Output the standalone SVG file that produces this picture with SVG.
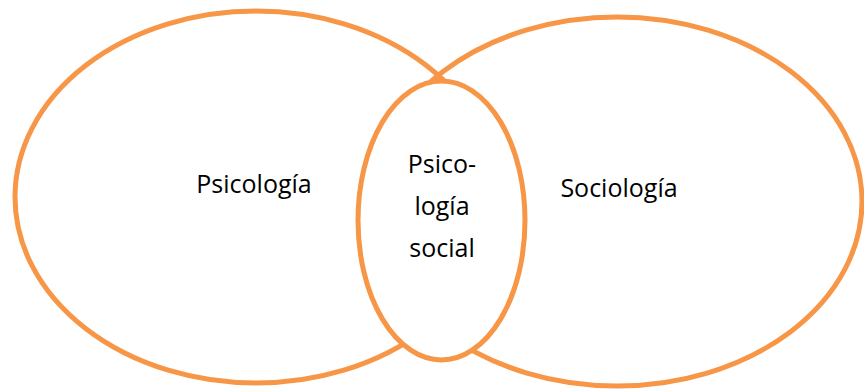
<svg xmlns="http://www.w3.org/2000/svg" width="864" height="389" viewBox="0 0 864 389">
<style>
.e{fill:none;stroke:#F79646;stroke-width:5}
.m{fill:#FFFFFF;stroke:#F79646;stroke-width:5}
.t{font-family:"Open Sans","Liberation Sans",sans-serif;font-size:25px;fill:#000000;text-anchor:middle}
</style>
<rect width="864" height="389" fill="#FFFFFF"/>
<g id="psicologia">
<ellipse class="e" cx="256" cy="197" rx="241" ry="186"/>
<text class="t" x="254" y="193">Psicología</text>
</g>
<g id="sociologia">
<ellipse class="e" cx="617" cy="201.5" rx="245" ry="184.5"/>
<text class="t" x="619" y="197">Sociología</text>
</g>
<g id="psicologia-social">
<ellipse class="m" cx="441.5" cy="220.5" rx="83.5" ry="139.5"/>
<text class="t" x="442" y="173">Psico-</text>
<text class="t" x="442" y="215">logía</text>
<text class="t" x="442" y="257">social</text>
</g>
<g id="connectors"></g>
</svg>
